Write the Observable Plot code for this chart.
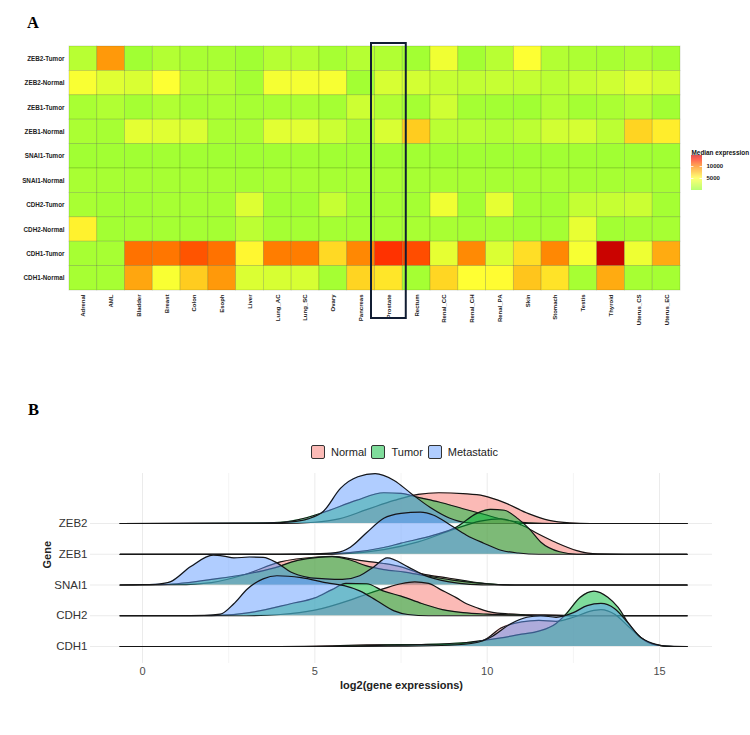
<!DOCTYPE html>
<html>
<head>
<meta charset="utf-8">
<script src="https://cdn.jsdelivr.net/npm/d3@7"></script>
<script src="https://cdn.jsdelivr.net/npm/@observablehq/plot@0.6"></script>
<style>
  html, body { margin: 0; padding: 0; background: #fff; }
  #page { position: relative; width: 750px; height: 735px; overflow: hidden; background: #fff; font-family: "Liberation Sans", Arial, sans-serif; }
  .panel-tag { position: absolute; font-family: "Liberation Serif", "Times New Roman", serif; font-weight: bold; font-size: 16.5px; line-height: 17px; color: #000; }
  .abs { position: absolute; }
  .abs svg { overflow: visible; }
  #ridge-legend { position: absolute; top: 445px; left: 311px; display: flex; align-items: center; font-size: 11px; color: #222; white-space: nowrap; }
  #ridge-legend .sw { width: 12px; height: 12px; border: 1px solid #333; border-radius: 2px; margin-right: 6px; }
  #ridge-legend .item { display: flex; align-items: center; margin-right: 5px; }
</style>
</head>
<body>
<div id="page">
  <div class="panel-tag" style="left:27px; top:14px;">A</div>
  <div class="panel-tag" style="left:28px; top:401px;">B</div>
  <div id="heat" class="abs" style="left:0; top:0;"></div>
  <div id="heat-key" class="abs" style="left:685px; top:145px;"></div>
  <div id="ridge-legend"></div>
  <div id="ridge" class="abs" style="left:0; top:465px;"></div>
</div>
<script>
// ---------- Panel A: median expression per tissue ----------
const tissues = ["Adrenal", "AML", "Bladder", "Breast", "Colon", "Esoph", "Liver", "Lung_AC", "Lung_SC", "Ovary", "Pancreas",
  "Prostate", "Rectum", "Renal_CC", "Renal_CH", "Renal_PA", "Skin", "Stomach", "Testis", "Thyroid", "Uterus_CS", "Uterus_EC"];

const rowLabels = ["ZEB2-Tumor", "ZEB2-Normal", "ZEB1-Tumor", "ZEB1-Normal", "SNAI1-Tumor", "SNAI1-Normal",
  "CDH2-Tumor", "CDH2-Normal", "CDH1-Tumor", "CDH1-Normal"];

const zeb2Tumor   = [1600, 9000, 500, 1400, 900, 900, 500, 1500, 1500, 800, 1500, 1300, 600, 4300, 600, 1600, 4900, 1400, 1100, 900, 1300, 700];
const zeb2Normal  = [4700, 3500, 3200, 4900, 1600, 1500, 700, 4500, 4500, 4600, 600, 3100, 2900, 2300, 2100, 2300, 2200, 1700, 2300, 2700, 3500, 2900];
const zeb1Tumor   = [900, 1300, 700, 1300, 800, 1000, 800, 900, 1000, 700, 2600, 1300, 700, 2700, 700, 600, 500, 1400, 700, 1000, 1600, 600];
const zeb1Normal  = [1000, 800, 3700, 3500, 3300, 1000, 1000, 3600, 3600, 2500, 1200, 3200, 7000, 1700, 1600, 1400, 1800, 2800, 3000, 1800, 6700, 5700];
const snai1Tumor  = [500, 550, 500, 600, 550, 500, 500, 550, 600, 500, 550, 550, 550, 500, 500, 500, 500, 550, 600, 500, 550, 500];
const snai1Normal = [900, 800, 800, 800, 800, 800, 700, 900, 900, 800, 900, 900, 800, 900, 800, 800, 800, 900, 800, 800, 900, 800];
const cdh2Tumor   = [900, 600, 600, 800, 800, 800, 3400, 600, 600, 2300, 700, 800, 700, 4300, 600, 3800, 700, 600, 2200, 2300, 2500, 700];
const cdh2Normal  = [5500, 600, 700, 700, 700, 700, 1800, 700, 700, 700, 700, 800, 900, 900, 800, 900, 600, 700, 3900, 600, 800, 800];
const cdh1Tumor   = [800, 800, 10400, 10300, 11300, 10400, 5300, 10100, 10100, 6500, 9700, 12300, 11500, 3800, 9600, 3300, 6300, 9700, 4600, 14800, 4200, 8300];
const cdh1Normal  = [800, 800, 8500, 4700, 7000, 9000, 3300, 3100, 3100, 700, 6700, 6000, 700, 6600, 5000, 5100, 7300, 6100, 800, 8300, 800, 700];

const keyTicks = [5000, 10000];
const highlighted = "Prostate";

const rowValues = [zeb2Tumor, zeb2Normal, zeb1Tumor, zeb1Normal, snai1Tumor, snai1Normal, cdh2Tumor, cdh2Normal, cdh1Tumor, cdh1Normal];
const heatCells = rowLabels.flatMap((row, r) => tissues.map((tissue, c) => ({row, tissue, value: rowValues[r][c]})));

const heatColor = {
  type: "linear",
  domain: [0, 5000, 10000, 13000, 15000],
  range: ["#96ff33", "#ffff33", "#ff8000", "#ff1a00", "#c40000"],
  clamp: true
};

const heat = Plot.plot({
  width: 750, height: 330,
  marginLeft: 69, marginRight: 70, marginTop: 46, marginBottom: 40,
  style: {fontFamily: "Liberation Sans, Arial, sans-serif", background: "transparent"},
  x: {domain: tissues, padding: 0, round: false, label: null},
  y: {domain: rowLabels, padding: 0, round: false, label: null},
  color: heatColor,
  marks: [
    Plot.cell(heatCells, {x: "tissue", y: "row", fill: "value", stroke: "#1f3300", strokeOpacity: 0.2, strokeWidth: 0.8}),
    Plot.axisX({tickSize: 0, tickPadding: 4, tickRotate: -90, fontSize: 6, fontWeight: "bold", color: "#222", label: null}),
    Plot.axisY({tickSize: 0, tickPadding: 5, fontSize: 6.3, fontWeight: "bold", color: "#222", label: null}),
    Plot.cell([highlighted], {x: d => d, fill: "none", stroke: "#111d33", strokeWidth: 2,
      insetLeft: -3.5, insetRight: -3.5, insetTop: -3, insetBottom: -28})
  ]
});
document.getElementById("heat").append(heat);

// vertical colour key for panel A
const keySteps = d3.range(0, 14600, 100).map(v => ({lo: v, hi: v + 100, mid: v + 50}));
const key = Plot.plot({
  width: 65, height: 50,
  marginLeft: 6, marginRight: 48, marginTop: 10, marginBottom: 5,
  style: {fontFamily: "Liberation Sans, Arial, sans-serif", background: "transparent", overflow: "visible"},
  x: {domain: [0, 1], axis: null},
  y: {domain: [0, 14600], axis: null},
  color: heatColor,
  marks: [
    Plot.rect(keySteps, {x1: 0, x2: 1, y1: "lo", y2: "hi", fill: "mid"}),
    Plot.ruleY(keyTicks, {x1: 0, x2: 0.22, stroke: "#fff", strokeWidth: 0.8}),
    Plot.ruleY(keyTicks, {x1: 0.78, x2: 1, stroke: "#fff", strokeWidth: 0.8}),
    Plot.text(keyTicks, {x: 1, y: d => d, dx: 4, text: d => String(d), textAnchor: "start", fontSize: 6, fontWeight: "bold", fill: "#222"}),
    Plot.text(["Median expression"], {frameAnchor: "top-left", dy: -5, textAnchor: "start", fontSize: 6.4, fontWeight: "bold", fill: "#111"})
  ]
});
document.getElementById("heat-key").append(key);

// ---------- Panel B: ridgeline densities of log2 expression ----------
const genes = ["CDH1", "CDH2", "SNAI1", "ZEB1", "ZEB2"];      // bottom to top
const groups = ["Normal", "Tumor", "Metastatic"];
const groupColors = ["#F8766D", "#00BA38", "#619CFF"];
const xTicks = [0, 5, 10, 15];
const xMinor = [2.5, 7.5, 12.5];

// [log2 expression, scaled density height]
const zeb2NormalDensity = [[-0.65,0],[4,0],[5,0.04],[5.7,0.15],[6.5,0.45],[7.3,0.75],[8,0.95],[8.6,1.0],[9.3,0.97],[9.9,0.9],[10.5,0.68],[11.2,0.32],[11.8,0.1],[12.4,0.02],[13,0],[15.8,0]];
const zeb2TumorDensity = [[-0.65,0],[3,0.01],[4,0.04],[4.5,0.12],[5.25,0.36],[6.2,0.75],[7,1.0],[7.5,0.98],[8,0.85],[8.6,0.7],[9.3,0.48],[9.9,0.3],[10.5,0.12],[11.2,0.02],[12,0],[15.8,0]];
const zeb2MetastaticDensity = [[-0.65,0],[3.5,0.01],[4.3,0.05],[4.8,0.15],[5.25,0.4],[5.75,1.15],[6.25,1.52],[6.75,1.62],[7.3,1.4],[7.8,0.97],[8.35,0.52],[8.9,0.18],[9.4,0.03],[10,0],[15.8,0]];

const zeb1NormalDensity = [[-0.65,0],[5,0],[6,0.03],[7,0.15],[8,0.4],[9,0.8],[9.8,1.08],[10.4,1.15],[11,0.95],[11.5,0.65],[12,0.38],[12.6,0.12],[13.2,0.01],[14,0],[15.8,0]];
const zeb1TumorDensity = [[-0.65,0],[5,0],[6,0.05],[7,0.22],[7.5,0.36],[8.45,0.62],[9.1,0.88],[9.7,1.33],[10.1,1.46],[10.5,1.43],[10.9,1.15],[11.2,0.85],[11.55,0.4],[12.1,0.08],[12.6,0],[15.8,0]];
const zeb1MetastaticDensity = [[-0.65,0],[4,0],[5,0.01],[5.6,0.05],[6.03,0.23],[6.5,0.7],[7,1.17],[7.5,1.33],[8.06,1.37],[8.45,1.27],[8.94,0.94],[9.4,0.62],[9.9,0.36],[10.4,0.13],[10.9,0.04],[11.5,0],[15.8,0]];

const snai1NormalDensity = [[-0.65,0],[1,0.01],[2,0.08],[3,0.35],[4,0.75],[5.07,0.91],[5.5,0.93],[6.3,0.8],[7,0.7],[7.5,0.59],[8.06,0.38],[8.9,0.22],[9.9,0.05],[10.6,0],[15.8,0]];
const snai1TumorDensity = [[-0.65,0],[0.5,0.01],[1,0.04],[2,0.18],[3,0.35],[3.8,0.55],[4.5,0.8],[5.1,0.9],[5.5,0.92],[6,0.82],[6.5,0.62],[7,0.5],[7.6,0.42],[8.2,0.3],[9,0.16],[10,0.04],[11,0],[15.8,0]];
const snai1MetastaticDensity = [[-0.65,0],[0,0.01],[0.45,0.03],[0.8,0.1],[1.4,0.6],[2.05,0.97],[2.35,0.94],[2.65,0.88],[3.1,0.91],[3.5,0.9],[3.9,0.72],[4.3,0.42],[4.8,0.25],[5.3,0.2],[5.8,0.18],[6.3,0.3],[6.7,0.58],[7.1,0.88],[7.7,0.59],[8.15,0.33],[8.9,0.1],[9.5,0.02],[10.2,0],[15.8,0]];

const cdh2NormalDensity = [[-0.65,0],[3,0],[4,0.04],[5,0.18],[6,0.5],[6.5,0.7],[7,0.88],[7.5,1.04],[7.9,1.1],[8.3,1.05],[8.65,0.85],[9.1,0.59],[9.4,0.39],[9.7,0.26],[10.2,0.1],[11,0.04],[12,0.02],[13,0],[15.8,0]];
const cdh2TumorDensity = [[-0.65,0],[1.5,0],[2.5,0.03],[3.2,0.12],[4.3,0.39],[5,0.58],[5.5,0.85],[5.9,1.05],[6.5,1.04],[7,0.8],[7.5,0.64],[8.1,0.4],[8.7,0.2],[9.3,0.1],[10,0.05],[11,0.02],[12,0],[15.8,0]];
const cdh2MetastaticDensity = [[-0.65,0],[1,0],[1.8,0.01],[2.26,0.05],[2.65,0.39],[3.05,0.88],[3.5,1.2],[3.9,1.3],[4.6,1.24],[5.36,1.07],[5.85,0.98],[6.3,0.81],[6.8,0.49],[7.3,0.16],[7.7,0.04],[8.3,0],[15.8,0]];

const cdh1NormalDensity = [[-0.65,0],[4,0],[5.5,0.02],[6.5,0.05],[7.5,0.06],[8.5,0.06],[9.5,0.12],[9.9,0.2],[10.4,0.6],[11,0.8],[11.5,0.85],[12,0.82],[12.5,0.95],[13,1.15],[13.3,1.2],[13.7,1.05],[14.1,0.65],[14.5,0.25],[14.9,0.05],[15.4,0],[15.8,0]];
const cdh1TumorDensity = [[-0.65,0],[5,0],[6,0.01],[7.1,0.04],[8,0.06],[9.4,0.13],[10.4,0.28],[11,0.4],[11.5,0.5],[12,0.75],[12.3,1.07],[12.7,1.6],[13.1,1.8],[13.5,1.6],[13.8,1.27],[14.1,0.75],[14.45,0.3],[14.9,0.05],[15.4,0],[15.8,0]];
const cdh1MetastaticDensity = [[-0.65,0],[6,0],[7.5,0.01],[8.9,0.04],[9.7,0.13],[10.1,0.3],[10.7,0.75],[11.15,0.95],[11.55,1.0],[12,0.95],[12.5,1.1],[12.9,1.33],[13.3,1.4],[13.7,1.23],[14.1,0.75],[14.45,0.3],[14.8,0.1],[15.2,0.01],[15.8,0]];

const densityTable = {
  ZEB2: [zeb2NormalDensity, zeb2TumorDensity, zeb2MetastaticDensity],
  ZEB1: [zeb1NormalDensity, zeb1TumorDensity, zeb1MetastaticDensity],
  SNAI1: [snai1NormalDensity, snai1TumorDensity, snai1MetastaticDensity],
  CDH2: [cdh2NormalDensity, cdh2TumorDensity, cdh2MetastaticDensity],
  CDH1: [cdh1NormalDensity, cdh1TumorDensity, cdh1MetastaticDensity]
};

// top ridge first so that lower ridges overlap the ones above
const ridgeMarks = genes.slice().reverse().flatMap(gene => {
  const base = genes.indexOf(gene);
  return groups.flatMap((g, gi) => {
    const rows = densityTable[gene][gi].map(([x, h]) => ({x, base, top: base + h}));
    return [
      Plot.areaY(rows, {x: "x", y1: "base", y2: "top", fill: groupColors[gi], fillOpacity: 0.5, curve: "monotone-x"}),
      Plot.lineY(rows, {x: "x", y: "top", stroke: "#151515", strokeWidth: 1.2, curve: "monotone-x"})
    ];
  });
});

const ridge = Plot.plot({
  width: 750, height: 270,
  marginLeft: 90, marginRight: 38, marginTop: 8, marginBottom: 72,
  style: {fontFamily: "Liberation Sans, Arial, sans-serif", background: "transparent"},
  x: {domain: [-1.509, 16.537], label: null},
  y: {domain: [-0.553, 5.626], label: null},
  marks: [
    Plot.gridX(xMinor, {stroke: "#f4f4f4", strokeOpacity: 1}),
    Plot.gridX(xTicks, {stroke: "#ebebeb", strokeOpacity: 1}),
    Plot.gridY(d3.range(genes.length), {stroke: "#ebebeb", strokeOpacity: 1}),
    ...ridgeMarks,
    Plot.axisX({ticks: xTicks, tickSize: 0, tickPadding: 4, fontSize: 11, color: "#4d4d4d", label: null}),
    Plot.axisY({ticks: d3.range(genes.length), tickFormat: i => genes[i], tickSize: 0, tickPadding: 3, fontSize: 11.5, color: "#333", label: null}),
    Plot.text(["log2(gene expressions)"], {frameAnchor: "bottom", dy: 25, fontSize: 11, fontWeight: "bold", fill: "#222"}),
    Plot.text(["Gene"], {frameAnchor: "left", dx: -43, rotate: -90, fontSize: 11, fontWeight: "bold", fill: "#222"})
  ]
});
document.getElementById("ridge").append(ridge);

// legend for the three sample groups
const legend = d3.select("#ridge-legend");
groups.forEach((g, i) => {
  const item = legend.append("div").attr("class", "item");
  item.append("div").attr("class", "sw").style("background", d3.color(groupColors[i]).copy({opacity: 0.5}).formatRgb());
  item.append("span").text(g);
});
</script>
</body>
</html>
